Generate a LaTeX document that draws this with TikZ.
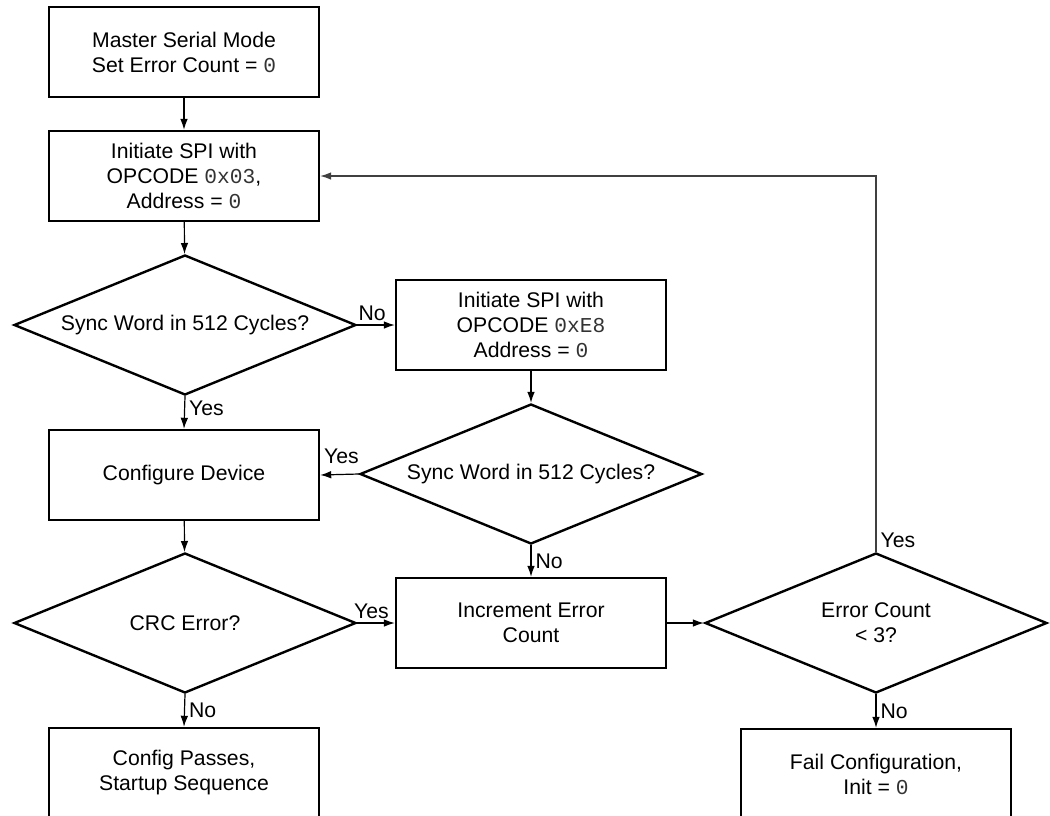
\documentclass[tikz,border=0pt]{standalone}
\usepackage{fontspec}
\setmainfont{Liberation Sans}
\newfontfamily\codefont{Liberation Mono}
\usetikzlibrary{shapes.geometric,arrows.meta}
\newcommand{\cd}[1]{{\codefont\color{black!80}#1}}

\begin{document}
\begin{tikzpicture}[x=0.5pt,y=-0.5pt,
    font=\fontsize{10.6}{12.5}\selectfont,
    box/.style={draw,line width=1.2pt,minimum width=135pt,minimum height=45pt,align=center,inner sep=0pt},
    decision/.style={draw,diamond,line width=1.2pt,aspect=2.44,minimum width=171pt,minimum height=70pt,align=center,inner sep=0pt},
    flow/.style={line width=0.6pt,-{Latex[length=5.5pt,width=3.8pt]}},
    lbl/.style={inner sep=2pt}]
      \useasboundingbox (0,0) rectangle (1050,815);
      % left column
      \node[box] (start) at (184,52) {Master Serial Mode\\Set Error Count = \cd{0}};
      \node[box] (spi1) at (184,176) {Initiate SPI with\\OPCODE \cd{0x03},\\Address = \cd{0}};
      \node[decision] (sync1) at (185,325) {Sync Word in 512 Cycles?};
      \node[box] (config) at (184,475) {Configure Device};
      \node[decision] (crc) at (185,623) {CRC Error?};
      \node[box] (pass) at (184,773) {Config Passes,\\Startup Sequence};
      % middle column
      \node[box] (spi2) at (531,325) {Initiate SPI with\\OPCODE \cd{0xE8}\\Address = \cd{0}};
      \node[decision] (sync2) at (531,474) {Sync Word in 512 Cycles?};
      \node[box] (incr) at (531,623) {Increment Error\\Count};
      % right column
      \node[decision] (count) at (876,623) {Error Count\\< 3?};
      \node[box] (fail) at (876,774) {Fail Configuration,\\Init = \cd{0}};
      % connectors
      \draw[flow] (start) -- (spi1);
      \draw[flow] (spi1) -- (sync1);
      \draw[flow] (sync1.east) -- node[lbl,above,pos=0.4]{No} (spi2.west);
      \draw[flow] (sync1.south) -- node[lbl,right,pos=0.37]{Yes} (config.north);
      \draw[flow] (spi2) -- (sync2);
      \draw[flow] (sync2.west) -- node[lbl,above=3pt,pos=0.45]{Yes} (config.east);
      \draw[flow] (sync2.south) -- node[lbl,right,pos=0.5]{No} (incr.north);
      \draw[flow] (config) -- (crc);
      \draw[flow] (crc.east) -- node[lbl,above,pos=0.38]{Yes} (incr.west);
      \draw[flow] (crc.south) -- node[lbl,right,pos=0.5]{No} (pass.north);
      \draw[flow] (incr.east) -- (count.west);
      \draw[flow] (count.south) -- node[lbl,right,pos=0.5]{No} (fail.north);
      \draw[flow,black!75] (count.north) node[lbl,anchor=south west,black]{Yes} |- (spi1.east);
\end{tikzpicture}
\end{document}
